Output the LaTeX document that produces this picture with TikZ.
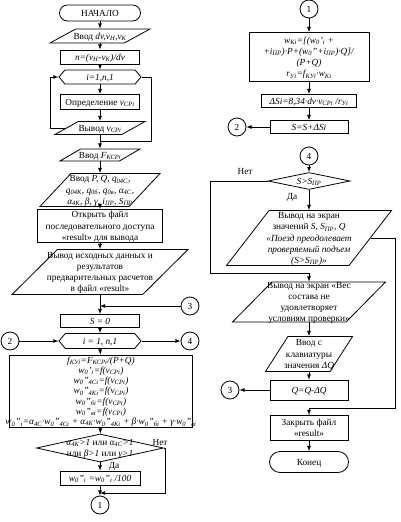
\documentclass[tikz,border=0pt]{standalone}
\usepackage{fontspec}
\setmainfont{Liberation Serif}
\usetikzlibrary{shapes.geometric,shapes.misc,shapes.symbols}

\newcommand{\ix}[1]{\textsubscript{#1}}
\newcommand{\inbox}[1]{\smash{\raisebox{-3.1pt}{\makebox[0pt]{\begin{tabular}{@{}c@{}}#1\end{tabular}}}}}

\tikzset{
	blk/.style={draw, line width=0.8pt, inner sep=0.5pt, font=\fontsize{9.3}{11.2}\selectfont},
	sz/.style 2 args={minimum width=#1pt, minimum height=#2pt},
	procbox/.style={blk, rectangle},
	iobox/.style={blk, trapezium, trapezium left angle=62, trapezium right angle=118, trapezium stretches=true},
	loopbox/.style={blk, signal, signal to=east and west, signal pointer angle=100},
	testbox/.style={blk, diamond},
	termbox/.style={blk, rounded rectangle},
	conn/.style={blk, circle, minimum size=18pt},
	flow/.style={line width=0.8pt, -latex},
	link/.style={line width=0.8pt},
	lbl/.style={font=\fontsize{9.3}{11.2}\selectfont, inner sep=0pt},
}

\begin{document}
\begin{tikzpicture}[x=1pt, y=-1pt]
	\useasboundingbox (0,0) rectangle (401,522);
	% Left column
	\node[termbox, sz={82}{16}] (start) at (100,13) {\inbox{НАЧАЛО}};
	\node[iobox, sz={100}{14}] (indv) at (100,36) {\inbox{Ввод \textit{dv,v\ix{Н},v\ix{К}}}};
	\node[procbox, sz={79}{14}] (num) at (100,57) {\inbox{\textit{n=(v\ix{Н}-v\ix{К})/dv}}};
	\node[loopbox, sz={82}{14}] (loopa) at (100,77) {\inbox{\textit{i=1,n,1}}};
	\node[procbox, sz={79}{15}] (vcp) at (100,102) {\inbox{Определение \textit{v\ix{СРi}}}};
	\node[iobox, sz={90}{13}] (outv) at (100,128) {\inbox{Вывод \textit{v\ix{СРi}}}};
	\node[iobox, sz={80}{12}] (inf) at (100,155) {\inbox{Ввод \textit{F\ix{КСРi}}}};
	\node[iobox, sz={120}{33}] (inpq) at (100,190) {\inbox{Ввод \textit{P, Q, q\ix{04С},}\\
		\textit{q\ix{04К}, q\ix{0б}, q\ix{0в}, α\ix{4С},}\\
		\textit{α\ix{4К}, β, γ, i\ix{ПР}, S\ix{ПР}}}};
	\node[procbox, sz={125}{33}] (open) at (100,226) {\inbox{Открыть файл\\последовательного доступа\\«result» для вывода}};
	\node[iobox, sz={176}{45}] (outres) at (100,272) {\inbox{Вывод исходных данных и\\результатов\\предварительных расчетов\\в файл «result»}};
	\node[procbox, sz={79}{13}] (szero) at (100,321) {\inbox{\textit{S = 0}}};
	\node[loopbox, sz={82}{15}] (loopb) at (100,341) {\inbox{\textit{i = 1, n,1}}};
	\node[procbox, sz={183}{72}, font=\fontsize{9.3}{10.3}\selectfont] (calc) at (101,391) {\inbox{\textit{f\ix{КУi}=F\ix{КСРi}/(P+Q)}\\
		\textit{w\ix{0}'\ix{i}=f(v\ix{СРi})}\\
		\textit{w\ix{0}''\ix{4Сi}=f(v\ix{СРi})}\\
		\textit{w\ix{0}''\ix{4Кi}=f(v\ix{СРi})}\\
		\textit{w\ix{0}''\ix{бi}=f(v\ix{СРi})}\\
		\textit{w\ix{0}''\ix{вi}=f(v\ix{СРi})}\\
		\textit{w\ix{0}''\ix{i}=α\ix{4С}·w\ix{0}''\ix{4Сi} + α\ix{4К}·w\ix{0}''\ix{4Кi} + β·w\ix{0}''\ix{бi} + γ·w\ix{0}''\ix{вi}}}};
	\node[testbox, sz={127}{28}] (test) at (100,448) {\inbox{\textit{α\ix{4К}>1} или \textit{α\ix{4С}>1}\\или \textit{β>1} или \textit{γ>1}}};
	\node[procbox, sz={80}{14}] (wdiv) at (100,478) {\inbox{\textit{w\ix{0}''\ix{i} =w\ix{0}''\ix{i} /100}}};
	\node[conn] (ca1) at (100,505) {1};
	\node[conn] (ca2) at (10,341) {2};
	\node[conn] (ca3) at (190,306) {3};
	\node[conn] (ca4) at (190,341) {4};
	\node[lbl] (noa) at (160,442) {Нет};
	\node[lbl] (yesa) at (114,466) {Да};
	% Right column
	\node[conn] (cb1) at (309,9) {1};
	\node[procbox, sz={120}{49}] (wk) at (309,57) {\inbox{\textit{w\ix{Кi}=[(w\ix{0}'\ix{i} +}\\
		\textit{+i\ix{ПР})·P+(w\ix{0}''+i\ix{ПР})·Q]/}\\
		\textit{(P+Q)}\\
		\textit{r\ix{Уi}=f\ix{КУi}·w\ix{Кi}}}};
	\node[procbox, sz={95}{13}] (dsi) at (309,101) {\inbox{\textit{ΔSi=8,34·dv·v\ix{СРi} /r\ix{Уi}}}};
	\node[procbox, sz={78}{13}] (ssum) at (309,127) {\inbox{\textit{S=S+ΔSi}}};
	\node[conn] (cb2) at (237,127) {2};
	\node[conn] (cb4) at (309,156) {4};
	\node[testbox, sz={82}{17}] (cmp) at (309,181) {\inbox{\textit{S>S\ix{ПР}}}};
	\node[iobox, sz={165}{55}] (outok) at (309,238) {\inbox{Вывод на экран\\значений \textit{S, S\ix{ПР}, Q}\\
		\textit{«Поезд преодолевает}\\\textit{проверяемый подъем}\\\textit{(S>S\ix{ПР})»}}};
	\node[iobox, sz={153}{40}] (outbad) at (309,302) {\inbox{Вывод на экран «Вес\\состава не\\удовлетворяет\\условиям проверки»}};
	\node[iobox, sz={87}{35}] (inq) at (309,354) {\inbox{Ввод с\\клавиатуры\\значения \textit{ΔQ}}};
	\node[procbox, sz={78}{20}] (qnew) at (309,390) {\inbox{\textit{Q=Q-ΔQ}}};
	\node[conn] (cb3) at (230,390) {3};
	\node[procbox, sz={78}{25}] (close) at (309,428) {\inbox{Закрыть файл\\«result»}};
	\node[termbox, sz={80}{21}] (finish) at (309,462) {\inbox{Конец}};
	\node[lbl] (nob) at (245,171) {Нет};
	\node[lbl] (yesb) at (292,197) {Да};
	% Bends and joins
	\coordinate (backa) at (50,128);
	\coordinate (exita) at (151,141);
	\coordinate (ja) at (100,141);
	\coordinate (jb) at (100,306);
	\coordinate (jcr) at (165,493);
	\coordinate (jc) at (100,493);
	\coordinate (nol) at (210,273);
	\coordinate (okr) at (395,408);
	% Connectors, left
	\draw[flow] (start) -- (indv);
	\draw[flow] (indv) -- (num);
	\draw[flow] (num) -- (loopa);
	\draw[flow] (loopa) -- (vcp);
	\draw[flow] (vcp) -- (outv);
	\draw[flow] (outv) -- (inf);
	\draw[flow] (outv.west) -- (backa) |- (loopa.west);
	\draw[link] (loopa.east) -| (exita) -- (ja);
	\draw[flow] (inf) -- (inpq);
	\draw[flow] (inpq) -- (open);
	\draw[flow] (open) -- (outres);
	\draw[flow] (outres) -- (szero);
	\draw[flow] (ca3) -- (jb);
	\draw[flow] (szero) -- (loopb);
	\draw[flow] (ca2) -- (loopb);
	\draw[flow] (loopb) -- (ca4);
	\draw[flow] (loopb) -- (calc);
	\draw[flow] (calc) -- (test);
	\draw[flow] (test) -- (wdiv);
	\draw[flow] (test.east) -| (jcr) -- (jc);
	\draw[flow] (wdiv) -- (ca1);
	% Connectors, right
	\draw[flow] (cb1) -- (wk);
	\draw[flow] (wk) -- (dsi);
	\draw[flow] (dsi) -- (ssum);
	\draw[flow] (ssum) -- (cb2);
	\draw[flow] (cb4) -- (cmp);
	\draw[flow] (cmp) -- (outok);
	\draw[flow] (cmp.west) -| (nol) -| (outbad.north);
	\draw[flow] (outok.east) -| (okr) -| (close.north);
	\draw[flow] (outbad) -- (inq);
	\draw[flow] (inq) -- (qnew);
	\draw[flow] (qnew) -- (cb3);
	\draw[flow] (close) -- (finish);
\end{tikzpicture}
\end{document}
